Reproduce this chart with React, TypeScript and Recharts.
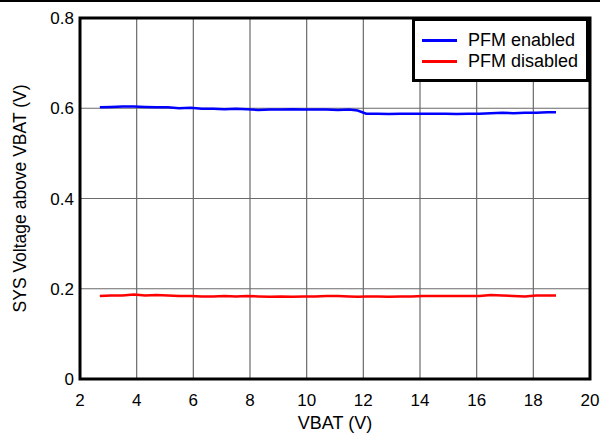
import { LineChart, Line, XAxis, YAxis, CartesianGrid, Legend, ReferenceArea } from 'recharts'

const vbat = [
  2.7, 3.1, 3.5, 3.9, 4.3, 4.7, 5.1, 5.5, 5.9, 6.3, 6.7, 7.1, 7.5, 7.9, 8.3, 8.7, 9.1, 9.5, 9.9, 10.3, 10.7,
  11.1, 11.5, 11.8, 12.1, 12.5, 12.9, 13.3, 13.7, 14.1, 14.5, 14.9, 15.3, 15.7, 16.1, 16.5, 16.9, 17.3, 17.7,
  18.1, 18.5, 18.8,
]

const pfmEnabled = [
  0.602, 0.603, 0.604, 0.604, 0.603, 0.602, 0.602, 0.6, 0.601, 0.599, 0.599, 0.598, 0.599, 0.598, 0.596,
  0.597, 0.597, 0.598, 0.597, 0.597, 0.597, 0.596, 0.597, 0.595, 0.588, 0.588, 0.587, 0.588, 0.588, 0.588,
  0.588, 0.588, 0.587, 0.588, 0.588, 0.589, 0.59, 0.589, 0.59, 0.59, 0.591, 0.591,
]

const pfmDisabled = [
  0.184, 0.185, 0.185, 0.187, 0.185, 0.186, 0.185, 0.184, 0.184, 0.183, 0.183, 0.184, 0.183, 0.184, 0.183,
  0.182, 0.183, 0.182, 0.183, 0.183, 0.184, 0.184, 0.183, 0.182, 0.183, 0.183, 0.182, 0.183, 0.183, 0.184,
  0.184, 0.184, 0.184, 0.184, 0.184, 0.186, 0.185, 0.184, 0.183, 0.185, 0.185, 0.185,
]

const xTicks = [2, 4, 6, 8, 10, 12, 14, 16, 18, 20]
const yTicks = [0, 0.2, 0.4, 0.6, 0.8]
const seriesOrder = ['enabled', 'disabled']

const data = vbat.map((v, i) => ({ vbat: v, enabled: pfmEnabled[i], disabled: pfmDisabled[i] }))

const font = 'Arial, "Liberation Sans", sans-serif'

function LegendBox({ payload }: any) {
  const items = [...(payload || [])].sort(
    (a: any, b: any) => seriesOrder.indexOf(a.dataKey) - seriesOrder.indexOf(b.dataKey),
  )
  return (
    <div
      style={{
        border: '3px solid #000',
        background: '#fff',
        width: 171,
        height: 58,
        boxSizing: 'content-box',
        fontFamily: font,
        fontSize: 18,
        color: '#000',
      }}
    >
      {items.map((p: any) => (
        <div key={p.value} style={{ display: 'flex', alignItems: 'center', height: 21, marginTop: 9, marginBottom: -9 }}>
          <div style={{ width: 35, height: 3, background: p.color, marginLeft: 7, marginRight: 11 }} />
          <span style={{ whiteSpace: 'nowrap' }}>{p.value}</span>
        </div>
      ))}
    </div>
  )
}

export default function App() {
  return (
    <div style={{ position: 'absolute', left: 0, top: 0, width: 600, height: 434, background: '#fff' }}>
      <div style={{ position: 'absolute', left: 0, top: 0, width: 600, height: 2, background: '#000' }} />
      <LineChart width={600} height={434} data={data} margin={{ top: 18, right: 10, bottom: 0, left: 0 }}>
        <CartesianGrid stroke="#6a6a6a" strokeWidth={1.2} />
        <XAxis
          dataKey="vbat"
          type="number"
          domain={[2, 20]}
          ticks={xTicks}
          height={55}
          axisLine={false}
          tickLine={false}
          tickSize={13}
          tick={{ fill: '#000', fontSize: 17, fontFamily: font }}
          label={{ value: 'VBAT (V)', position: 'insideBottom', offset: 5, fill: '#000', fontSize: 18, fontFamily: font }}
        />
        <YAxis
          type="number"
          domain={[0, 0.8]}
          ticks={yTicks}
          width={80}
          axisLine={false}
          tickLine={false}
          tickSize={4}
          tickFormatter={(v: number) => (v === 0 ? '0' : v.toFixed(1))}
          tick={{ fill: '#000', fontSize: 17, fontFamily: font }}
          label={{
            value: 'SYS Voltage above VBAT (V)',
            angle: -90,
            position: 'insideLeft',
            offset: 20,
            fill: '#000',
            fontSize: 17.5,
            fontFamily: font,
            style: { textAnchor: 'middle' },
          }}
        />
        <ReferenceArea x1={2} x2={20} y1={0} y2={0.8} fill="none" stroke="#000" strokeWidth={3} ifOverflow="visible" />
        <Legend
          layout="vertical"
          align="center"
          verticalAlign="middle"
          content={<LegendBox />}
          wrapperStyle={{ position: 'absolute', top: 18, left: 412, width: 177 }}
        />
        <Line
          type="linear"
          dataKey="enabled"
          name="PFM enabled"
          stroke="#0000ff"
          strokeWidth={2.5}
          dot={false}
          isAnimationActive={false}
        />
        <Line
          type="linear"
          dataKey="disabled"
          name="PFM disabled"
          stroke="#ff0000"
          strokeWidth={2.5}
          dot={false}
          isAnimationActive={false}
        />
      </LineChart>
    </div>
  )
}
